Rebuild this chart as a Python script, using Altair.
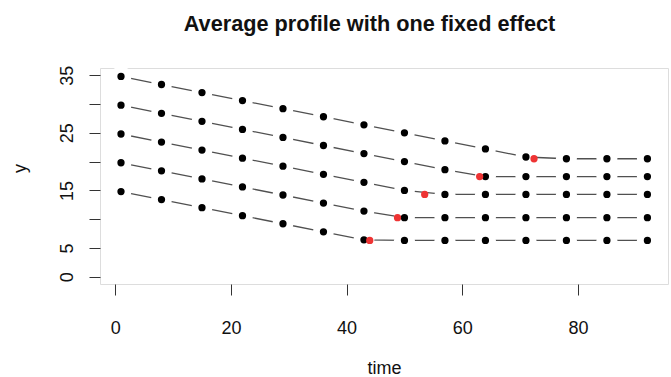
import altair as alt
import pandas as pd

# ---- data ----
times = [1, 8, 15, 22, 29, 36, 43, 50, 57, 64, 71, 78, 85, 92]
profile_1 = [14.8, 13.4, 12.0, 10.6, 9.2, 7.8, 6.4, 6.3, 6.3, 6.3, 6.3, 6.3, 6.3, 6.3]
profile_2 = [19.8, 18.4, 17.0, 15.6, 14.2, 12.8, 11.4, 10.25, 10.25, 10.25, 10.25, 10.25, 10.25, 10.25]
profile_3 = [24.8, 23.4, 22.0, 20.6, 19.2, 17.8, 16.4, 15.0, 14.3, 14.3, 14.3, 14.3, 14.3, 14.3]
profile_4 = [29.8, 28.4, 27.0, 25.6, 24.2, 22.8, 21.4, 20.0, 18.6, 17.4, 17.4, 17.4, 17.4, 17.4]
profile_5 = [34.8, 33.4, 32.0, 30.6, 29.2, 27.8, 26.4, 25.0, 23.6, 22.2, 20.8, 20.5, 20.5, 20.5]
change_time = [44.0, 48.8, 53.5, 63.0, 72.4]
change_y = [6.3, 10.25, 14.3, 17.4, 20.5]

x_ticks = [0, 20, 40, 60, 80]
y_ticks = [0, 5, 10, 15, 20, 25, 30, 35]
y_labels = [0, 5, 15, 25, 35]

rows = []
for name, vals in [("p1", profile_1), ("p2", profile_2), ("p3", profile_3),
                   ("p4", profile_4), ("p5", profile_5)]:
    for t, v in zip(times, vals):
        rows.append({"time": t, "y": v, "series": name})
df = pd.DataFrame(rows)
df_red = pd.DataFrame({"time": change_time, "y": change_y})

FONT = "Liberation Sans"
show_cond = " || ".join(f"datum.value == {v}" for v in y_labels)

xenc = alt.X("time:Q",
             scale=alt.Scale(domain=[-2.63, 95.56], nice=False, zero=False),
             axis=alt.Axis(values=x_ticks, tickCount=len(x_ticks), title="time",
                           grid=False, domain=False,
                           tickSize=11, tickColor="#333", labelFontSize=18,
                           labelFont=FONT, labelColor="#111", labelBaseline="alphabetic",
                           labelPadding=38, labelOverlap=False, titleFont=FONT,
                           titleFontSize=18, titleFontWeight="normal", titleColor="#111",
                           titleBaseline="alphabetic", titleY=89))
yenc = alt.Y("y:Q",
             scale=alt.Scale(domain=[-1.27, 36.27], nice=False, zero=False),
             axis=alt.Axis(values=y_ticks, tickCount=len(y_ticks), title="y",
                           grid=False, domain=False,
                           tickSize=11, tickColor="#333", labelFontSize=18,
                           labelFont=FONT, labelColor="#111", labelAngle=270,
                           labelAlign="center", labelBaseline="alphabetic",
                           labelPadding=17, labelOverlap=False,
                           labelExpr=f"({show_cond}) ? datum.label : ''",
                           titleFont=FONT, titleFontSize=18, titleFontWeight="normal",
                           titleColor="#111", titleAngle=270, titleBaseline="middle",
                           titleX=-80, titleY=100))

base = alt.Chart(df)
lines = base.mark_line(color="#505050", strokeWidth=1.3).encode(
    x=xenc, y=yenc, detail="series:N", order="time:Q")
halos = base.mark_circle(color="white", opacity=1, size=441).encode(x="time:Q", y="y:Q")
points = base.mark_circle(color="black", opacity=1, size=53).encode(x="time:Q", y="y:Q")
red = alt.Chart(df_red).mark_circle(color="#EE3333", opacity=1, size=53).encode(
    x="time:Q", y="y:Q")

chart = alt.layer(lines, halos, points, red).properties(
    width=568, height=216,
    autosize=alt.AutoSizeParams(type="none"),
    padding={"left": 100, "top": 68, "right": 3, "bottom": 93},
    title=alt.TitleParams("Average profile with one fixed effect", font=FONT,
                          fontSize=21.7, fontWeight="bold", color="#111",
                          anchor="middle", dx=-14.5, offset=13, frame="group",
                          baseline="alphabetic"),
).configure_view(stroke="#333", strokeWidth=1).configure(background="white")

chart.save("out.html", embed_options={"renderer": "svg", "actions": False})
